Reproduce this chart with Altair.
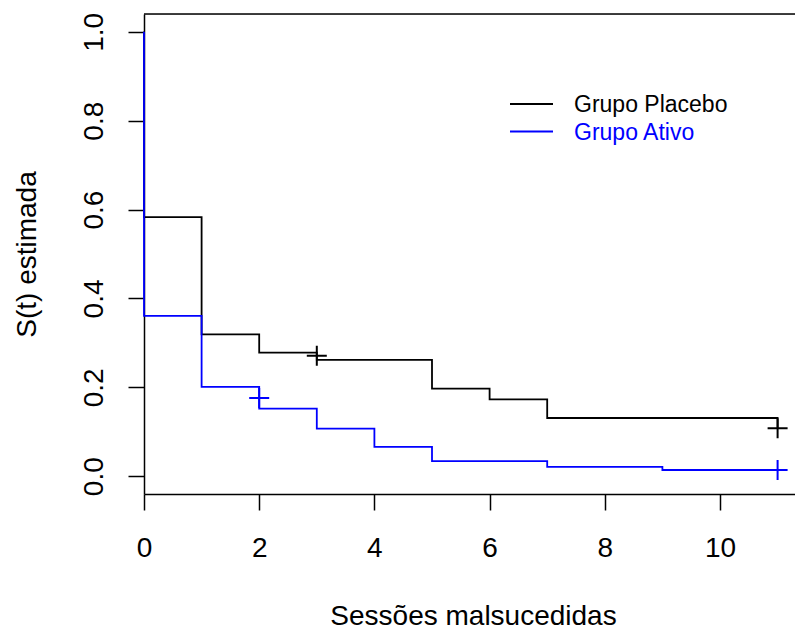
import altair as alt
import pandas as pd

# Kaplan-Meier step estimates (time, S(t)) for each group
tempo_placebo = [0, 0, 1, 2, 3, 5, 6, 7, 11, 11]
surv_placebo = [1.0, 0.583, 0.319, 0.278, 0.262, 0.197, 0.173, 0.131, 0.131, 0.108]

tempo_ativo = [0, 0, 1, 2, 3, 4, 5, 7, 9, 11]
surv_ativo = [1.0, 0.361, 0.201, 0.152, 0.107, 0.066, 0.034, 0.021, 0.014, 0.014]

# censoring marks
cens_tempo_placebo = [3, 11]
cens_surv_placebo = [0.271, 0.108]
cens_tempo_ativo = [2, 11]
cens_surv_ativo = [0.176, 0.014]

grupos = ["Grupo Placebo", "Grupo Ativo"]
cores = ["#000000", "#0000FF"]

x_ticks = [0, 2, 4, 6, 8, 10]
y_ticks = [0.0, 0.2, 0.4, 0.6, 0.8, 1.0]

FONT = "Liberation Sans"
W, H = 651, 480

curvas = pd.concat([
    pd.DataFrame({"tempo": tempo_placebo, "surv": surv_placebo,
                  "grupo": grupos[0], "ordem": range(len(tempo_placebo))}),
    pd.DataFrame({"tempo": tempo_ativo, "surv": surv_ativo,
                  "grupo": grupos[1], "ordem": range(len(tempo_ativo))}),
])
censuras = pd.concat([
    pd.DataFrame({"tempo": cens_tempo_placebo, "surv": cens_surv_placebo, "grupo": grupos[0]}),
    pd.DataFrame({"tempo": cens_tempo_ativo, "surv": cens_surv_ativo, "grupo": grupos[1]}),
])

x_scale = alt.Scale(domain=[0, W / 57.6], nice=False, zero=False)
y_scale = alt.Scale(domain=[-0.04, 1.04], nice=False, zero=False)
cor = alt.Color("grupo:N", scale=alt.Scale(domain=grupos, range=cores), legend=None)

x_axis = alt.Axis(
    values=x_ticks, format="d", grid=False, tickSize=16, tickWidth=1.5, tickColor="black",
    domainColor="black", domainWidth=1.5, labelFont=FONT, labelFontSize=28,
    labelColor="black", labelBaseline="alphabetic", labelPadding=46,
    labelFlush=False, labelOverlap=False,
    title="Sessões malsucedidas", titleFont=FONT, titleFontSize=28,
    titleFontWeight="normal", titleColor="black", titleX=329, titleY=130,
    titleAlign="center", titleBaseline="alphabetic",
)
y_axis = alt.Axis(
    values=y_ticks, format=".1f", grid=False, tickSize=16, tickWidth=1.5,
    tickColor="black", domainColor="black", domainWidth=1.5, labelFont=FONT,
    labelFontSize=28, labelColor="black", labelAngle=270, labelAlign="center",
    labelBaseline="alphabetic", labelPadding=26, labelFlush=False,
    labelOverlap=False,
    title="S(t) estimada", titleFont=FONT, titleFontSize=28,
    titleFontWeight="normal", titleColor="black", titleAngle=270,
    titleX=-109, titleY=240, titleAlign="center", titleBaseline="alphabetic",
)

linhas = alt.Chart(curvas).mark_line(interpolate="step-after", strokeWidth=1.8).encode(
    x=alt.X("tempo:Q", scale=x_scale, axis=x_axis),
    y=alt.Y("surv:Q", scale=y_scale, axis=y_axis),
    color=cor,
    detail="grupo:N",
    order="ordem:Q",
)

marcas = alt.Chart(censuras).mark_point(
    shape="M-1,0H1M0,-1V1", size=400, filled=False, strokeWidth=2, opacity=1
).encode(
    x=alt.X("tempo:Q", scale=x_scale, axis=x_axis),
    y=alt.Y("surv:Q", scale=y_scale, axis=y_axis),
    color=cor,
)

# top edge of the plot frame
moldura = alt.Chart(pd.DataFrame({"k": [0]})).mark_rule(
    color="black", strokeWidth=1.5
).encode(x=alt.value(0), x2=alt.value(W), y=alt.value(0))

# legend: a short line and a coloured label per group
legenda = []
for i, (g, c) in enumerate(zip(grupos, cores)):
    d = pd.DataFrame({"label": [g]})
    yl = 90 + i * 27.5
    legenda.append(
        alt.Chart(d).mark_rule(color=c, strokeWidth=1.8).encode(
            x=alt.value(366), x2=alt.value(409), y=alt.value(yl)
        )
    )
    legenda.append(
        alt.Chart(d).mark_text(
            align="left", baseline="alphabetic", font=FONT, fontSize=23, color=c
        ).encode(x=alt.value(430), y=alt.value(yl + 8), text="label:N")
    )

chart = alt.layer(linhas, marcas, moldura, *legenda).properties(
    width=W, height=H,
    autosize=alt.AutoSizeParams(type="none"),
    padding={"left": 144, "top": 14, "right": 0, "bottom": 136},
).configure_view(stroke=None).configure(background="white")

chart.save("out.html", embed_options={"renderer": "svg", "actions": False})
